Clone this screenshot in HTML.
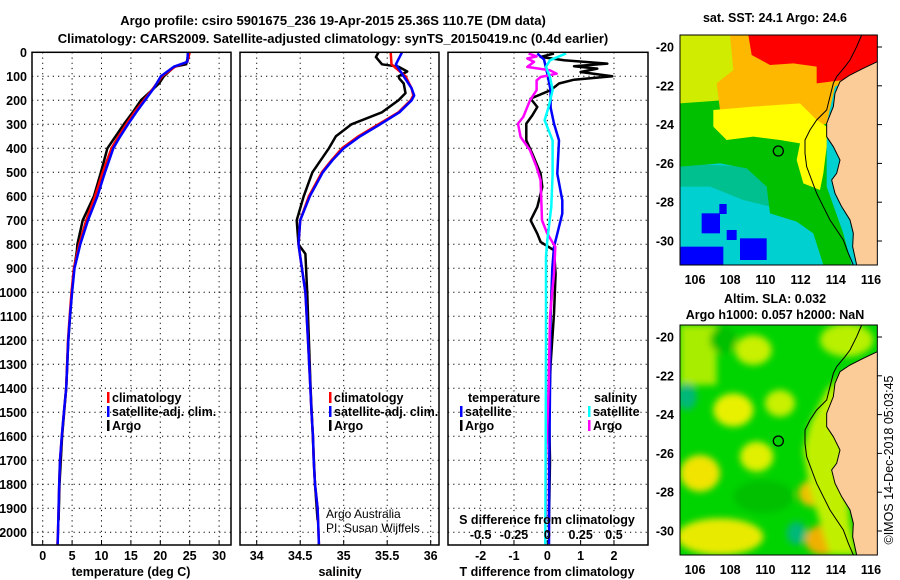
<!DOCTYPE html>
<html><head><meta charset="utf-8"><style>
html,body{margin:0;padding:0;background:#fff}
svg{display:block;font-family:"Liberation Sans",sans-serif}
.b{font-weight:bold;font-size:13px}
.t{font-weight:bold;font-size:12.5px}
</style></head><body>
<svg id="chart" width="900" height="580" viewBox="0 0 900 580" xmlns="http://www.w3.org/2000/svg">
<rect width="900" height="580" fill="#fff"/>
<text x="333" y="25" text-anchor="middle" class="b" font-size="14">Argo profile: csiro 5901675_236 19-Apr-2015 25.36S 110.7E (DM data)</text>
<text x="333" y="43" text-anchor="middle" class="b" font-size="14">Climatology: CARS2009. Satellite-adjusted climatology: synTS_20150419.nc (0.4d earlier)</text>
<g id="plots"></g>

<defs>
<clipPath id="mc"><rect x="30" y="105" width="592" height="690"/></clipPath>
<filter id="bl" x="-50%" y="-50%" width="200%" height="200%"><feGaussianBlur stdDeviation="10"/></filter>
</defs>
<text x="775" y="22" text-anchor="middle" class="t">sat. SST: 24.1 Argo: 24.6</text>
<g transform="translate(670,0) scale(0.33333)">
 <g clip-path="url(#mc)">
  <rect x="30" y="105" width="592" height="690" fill="#00d0d0"/>
  <polygon fill="#00c090" points="30,490 230,500 290,560 300,620 220,600 120,560 30,560"/>
  <polygon fill="#00c000" points="30,290 470,290 470,560 520,700 545,795 460,795 430,700 380,665 300,640 290,560 230,505 150,490 30,500"/>
  <polygon fill="#d0ec00" points="30,105 240,105 240,250 170,300 30,310"/>
  <polygon fill="#ffb800" points="180,105 622,105 622,200 495,260 470,370 420,390 380,340 250,350 150,330 140,250 190,210"/>
  <polygon fill="#ffff00" points="130,330 250,320 390,310 440,360 470,380 470,440 460,520 450,570 400,550 380,480 390,430 330,420 250,410 170,420 130,380"/>
  <polygon fill="#ff0000" points="235,105 622,105 622,185 520,240 440,250 440,200 370,190 300,195 245,165"/>
  <rect x="30" y="740" width="130" height="55" fill="#0000ff"/>
  <rect x="210" y="715" width="80" height="65" fill="#0000ff"/>
  <rect x="95" y="640" width="55" height="60" fill="#0000ff"/>
  <rect x="148" y="612" width="22" height="30" fill="#0000ff"/>
  <rect x="170" y="690" width="30" height="30" fill="#0000ff"/>
  <polygon fill="#fccc98" points="622,185 580,205 540,225 510,245 495,280 490,320 470,370 470,410 490,440 510,480 500,520 485,540 495,580 515,620 540,660 550,700 548,740 560,795 622,795"/>
  <polyline fill="none" stroke="#000" stroke-width="3" points="622,185 580,205 540,225 510,245 495,280 490,320 470,370 470,410 490,440 510,480 500,520 485,540 495,580 515,620 540,660 550,700 548,740 560,795"/>
  <polyline fill="none" stroke="#000" stroke-width="3" points="575,105 560,140 540,180 525,200 500,230 490,250 480,290 470,330 440,360 420,390 405,420 405,460 410,500 425,540 440,580 460,620 480,660 500,690 520,720 535,760 550,795"/>
  <circle cx="325" cy="453" r="15" fill="none" stroke="#000" stroke-width="4"/>
 </g>
 <rect x="30" y="105" width="592" height="690" fill="none" stroke="#000" stroke-width="3"/>
</g>

<text x="775" y="303" text-anchor="middle" class="t">Altim. SLA: 0.032</text>
<text x="775" y="319" text-anchor="middle" class="t">Argo h1000: 0.057 h2000: NaN</text>
<g transform="translate(670,290) scale(0.33333)">
 <g clip-path="url(#mc)">
  <rect x="30" y="105" width="592" height="690" fill="#00d400"/>
  <g filter="url(#bl)">
   <rect x="30" y="105" width="110" height="180" fill="#a8ec00"/>
   <ellipse cx="250" cy="180" rx="55" ry="45" fill="#c8f000"/>
   <ellipse cx="190" cy="360" rx="60" ry="50" fill="#e8f000"/>
   <ellipse cx="330" cy="340" rx="45" ry="40" fill="#c8f000"/>
   <ellipse cx="260" cy="500" rx="50" ry="45" fill="#e0f000"/>
   <ellipse cx="90" cy="550" rx="60" ry="55" fill="#f0e400"/>
   <ellipse cx="150" cy="740" rx="130" ry="55" fill="#e8ea00"/>
   <ellipse cx="430" cy="610" rx="45" ry="40" fill="#f0c000"/>
   <ellipse cx="460" cy="750" rx="55" ry="45" fill="#f0b000"/>
   <ellipse cx="530" cy="150" rx="80" ry="50" fill="#b8f000"/>
   <polygon fill="#c0f000" points="470,300 520,250 560,300 520,460 540,700 560,795 480,795 420,600 400,480 420,400"/>
   <ellipse cx="50" cy="320" rx="30" ry="40" fill="#00b878"/>
   <ellipse cx="380" cy="730" rx="30" ry="35" fill="#00b878"/>
   <ellipse cx="160" cy="150" rx="40" ry="40" fill="#00c000"/>
   <ellipse cx="280" cy="620" rx="90" ry="50" fill="#00c000"/>
  </g>
  <polygon fill="#fccc98" points="622,185 580,205 540,225 510,245 495,280 490,320 470,370 470,410 490,440 510,480 500,520 485,540 495,580 515,620 540,660 550,700 548,740 560,795 622,795"/>
  <polyline fill="none" stroke="#000" stroke-width="3" points="622,185 580,205 540,225 510,245 495,280 490,320 470,370 470,410 490,440 510,480 500,520 485,540 495,580 515,620 540,660 550,700 548,740 560,795"/>
  <polyline fill="none" stroke="#000" stroke-width="3" points="575,105 560,140 540,180 525,200 500,230 490,250 480,290 470,330 440,360 420,390 405,420 405,460 410,500 425,540 440,580 460,620 480,660 500,690 520,720 535,760 550,795"/>
  <circle cx="325" cy="453" r="15" fill="none" stroke="#000" stroke-width="4"/>
 </g>
 <rect x="30" y="105" width="592" height="690" fill="none" stroke="#000" stroke-width="3"/>
</g>
<text transform="translate(893,460) rotate(-90)" text-anchor="middle" font-size="12.5">©IMOS 14-Dec-2018 05:03:45</text>
</svg>
<script>
// ---- data ----
const depthTicks = [0,100,200,300,400,500,600,700,800,900,1000,1100,1200,1300,1400,1500,1600,1700,1800,1900,2000];
const tempTicks = [0,5,10,15,20,25,30];
const salTicks = [34,34.5,35,35.5,36];
const salTickLabels = ["34","34.5","35","35.5","36"];
const tdTicks = [-2,-1,0,1,2];
const sdTicks = [-0.5,-0.25,0,0.25,0.5];
const sdTickLabels = ["-0.5","-0.25","0","0.25","0.5"];

const climDepth = [0,40,60,100,150,200,250,300,350,400,500,600,700,800,900,1000,1100,1200,1400,1500,1600,1700,1800,1900,2000,2050];
const climT = [25,24.6,22.5,20.3,18.8,17.2,15.6,14.2,12.9,11.7,10.2,8.9,7.4,6.2,5.3,4.9,4.6,4.3,4.0,3.6,3.25,2.95,2.8,2.7,2.6,2.5];
const satT  = [24.7,24.6,22.3,20.1,18.9,17.4,15.9,14.5,13.2,12.0,10.6,9.3,7.7,6.4,5.4,5.0,4.65,4.35,4.0,3.6,3.25,2.95,2.8,2.7,2.6,2.55];
const argoTDepth = [0,20,50,60,100,130,200,250,300,350,400,500,600,700,800,830,900,1000,1200,1400,1600,1800,1950];
const argoT = [24.8,24.7,24.4,22.4,20.6,19.8,16.7,15.3,13.8,12.4,11,9.9,8.7,6.8,5.9,5.8,5.35,4.95,4.35,4.0,3.3,2.85,2.7];

const salDepth = [0,50,100,150,180,200,250,300,350,400,450,500,600,700,800,900,1000,1100,1200,1400,1500,1600,1700,1800,1900,2000,2050];
const climS = [35.54,35.55,35.71,35.78,35.80,35.77,35.63,35.40,35.17,34.98,34.86,34.75,34.60,34.50,34.48,34.52,34.56,34.575,34.59,34.617,34.63,34.647,34.655,34.67,34.70,34.71,34.715];
const satS  = [35.67,35.6,35.69,35.78,35.81,35.78,35.64,35.42,35.19,35.0,34.87,34.76,34.61,34.50,34.48,34.52,34.56,34.575,34.59,34.617,34.63,34.647,34.655,34.67,34.70,34.71,34.715];
const argoSDepth = [0,20,50,60,80,100,110,130,170,200,250,300,350,400,500,600,700,800,840,1000,1200,1400,1600,1800,1950];
const argoS = [35.40,35.37,35.44,35.63,35.73,35.63,35.64,35.69,35.71,35.63,35.44,35.09,34.91,34.83,34.64,34.54,34.46,34.48,34.56,34.58,34.60,34.62,34.645,34.67,34.70];

const argoTdDepth = [5,19,33,47,58,68,82,100,114,130,158,193,228,263,297,367,422,506,561,644,700,756,790,825,922,1089,1300,1500,1700,1950];
const argoTd = [0.2,-0.2,0.5,1.8,0.8,1.5,1.0,1.95,0.8,0.35,0.1,-0.5,-0.3,-0.45,-0.63,-0.63,-0.45,-0.2,-0.15,-0.3,-0.5,-0.3,-0.2,0.2,0.25,0.2,0.1,0.05,0.08,0.05];
const satTdDepth = [5,30,89,158,230,297,367,506,617,672,756,811,900,1100,1400,1700,2050];
const satTd = [-0.3,-0.1,0,0.1,0.1,0.2,0.35,0.3,0.45,0.45,0.3,0.2,0.15,0.1,0.08,0.06,0.05];
const argoSdDepth = [5,17,26,40,61,75,89,103,117,158,200,269,297,353,408,478,533,700,756,811,922,1100,1400,1700,1950];
const argoSd = [-0.14,-0.08,-0.15,-0.1,-0.15,0.02,0.07,-0.05,-0.08,-0.08,-0.13,-0.18,-0.22,-0.2,-0.13,-0.08,-0.05,-0.04,0,0.06,0.05,0.02,0.01,-0.01,-0.01];
const satSdDepth = [5,33,61,103,158,228,283,367,506,644,783,853,1200,1600,2050];
const satSd = [0.14,0.02,-0.01,0.02,0.04,0.01,-0.02,0.04,0.04,0.03,0,-0.01,-0.01,-0.012,-0.015];

const latTicks = [-20,-22,-24,-26,-28,-30];
const lonTicks = [106,108,110,112,114,116];

// ---- helpers ----
const NS = "http://www.w3.org/2000/svg";
const root = document.getElementById("plots");
function mk(tag, attrs, parent, txt){
  const e = document.createElementNS(NS, tag);
  for (const k in attrs) e.setAttribute(k, attrs[k]);
  if (txt !== undefined) e.textContent = txt;
  (parent || root).appendChild(e);
  return e;
}
const TOP = 52.3, BOT = 545;
const yD = d => TOP + d * 0.24;
const xT = v => 42.7 + v * 5.88;
const xS = v => 256.7 + (v - 34) * 87;
const xTd = v => 547.3 + v * 33.33;
const xSd = v => 547.3 + v * 133.33;

const panels = [{x0:32,x1:231,name:"temperature-panel"},{x0:240,x1:439,name:"salinity-panel"},{x0:448,x1:648,name:"difference-panel"}];
panels.forEach((p, i) => {
  const g = mk("g", {});
  
  
  depthTicks.forEach(d => {
    if (d === 0) return;
    const l = mk("line", {x1:p.x0, x2:p.x1, y1:yD(d), y2:yD(d), stroke:"#000", "stroke-width":1, "stroke-dasharray":"1.2 4"}, g);
    
    
  });
  const xs = i===0 ? tempTicks.map(xT) : i===1 ? salTicks.map(xS) : tdTicks.map(xTd);
  xs.forEach(x => {
    const l = mk("line", {x1:x, x2:x, y1:TOP, y2:BOT, stroke:"#000", "stroke-width":1, "stroke-dasharray":"1.2 4"}, g);
    
    
    const tk = mk("line", {x1:x, x2:x, y1:BOT, y2:BOT-5, stroke:"#000"}, g);
    
    
  });
  p.g = g;
});

function line(xsArr, ds, sx, color, name, w){
  const pts = xsArr.map((v, k) => sx(v).toFixed(1) + "," + yD(ds[k]).toFixed(1)).join(" ");
  const pl = mk("polyline", {points:pts, fill:"none", stroke:color, "stroke-width":w||2.5, "stroke-linejoin":"round"});
  
  
}
line(argoT, argoTDepth, xT, "#000", "argo-temperature-line");
line(climT, climDepth, xT, "#f00", "climatology-temperature-line");
line(satT, climDepth, xT, "#00f", "satellite-temperature-line");
line(argoS, argoSDepth, xS, "#000", "argo-salinity-line");
line(climS, salDepth, xS, "#f00", "climatology-salinity-line");
line(satS, salDepth, xS, "#00f", "satellite-salinity-line");
line(argoTd, argoTdDepth, xTd, "#000", "argo-t-diff-line");
line(satTd, satTdDepth, xTd, "#00f", "satellite-t-diff-line");
line(argoSd, argoSdDepth, xSd, "#f0f", "argo-s-diff-line");
line(satSd, satSdDepth, xSd, "#0ff", "satellite-s-diff-line");

panels.forEach(p => {
  const r = mk("rect", {x:p.x0, y:TOP, width:p.x1-p.x0, height:BOT-TOP, fill:"none", stroke:"#000", "stroke-width":1.5});
  
  
});

depthTicks.forEach(d => {
  const t = mk("text", {x:27, y:yD(d)+4.5, "text-anchor":"end", class:"t"}, root, String(d));
  
  
});
tempTicks.forEach(v => {
  const t = mk("text", {x:xT(v), y:560, "text-anchor":"middle", class:"t"}, root, String(v));
  
  
});
salTicks.forEach((v, k) => {
  const t = mk("text", {x:xS(v), y:560, "text-anchor":"middle", class:"t"}, root, salTickLabels[k]);
  
  
});
tdTicks.forEach(v => {
  const t = mk("text", {x:xTd(v), y:560, "text-anchor":"middle", class:"t"}, root, String(v));
  
  
});
sdTicks.forEach((v, k) => {
  const t = mk("text", {x:xSd(v), y:539, "text-anchor":"middle", class:"t"}, root, sdTickLabels[k]);
  
  
});
[["temperature (deg C)",131,"temperature-axis-title"],["salinity",340,"salinity-axis-title"],["T difference from climatology",547,"t-diff-axis-title"]].forEach(a => {
  const t = mk("text", {x:a[1], y:576, "text-anchor":"middle", class:"t"}, root, a[0]);
  
  
});
const sdt = mk("text", {x:547, y:524, "text-anchor":"middle", class:"t"}, root, "S difference from climatology");



function legend(x, y, color, label){
  const m = mk("rect", {x:x, y:y-10, width:2.5, height:11, fill:color});
  
  
  const t = mk("text", {x:x+5, y:y, class:"t"}, root, label);
  
  
}
[[107,"climatology","#f00",402],[107,"satellite-adj. clim.","#00f",416],[107,"Argo","#000",430]].forEach(a=>legend(a[0],a[3],a[2],a[1]));
[[329,"climatology","#f00",402],[329,"satellite-adj. clim.","#00f",416],[329,"Argo","#000",430]].forEach(a=>legend(a[0],a[3],a[2],a[1]));
const th = mk("text", {x:468, y:402, class:"t"}, root, "temperature");


const sh = mk("text", {x:594, y:402, class:"t"}, root, "salinity");


legend(460, 416, "#00f", "satellite");
legend(460, 430, "#000", "Argo");
legend(588, 416, "#0ff", "satellite");
legend(588, 430, "#f0f", "Argo");
const aa = mk("text", {x:326, y:518, "font-size":"12"}, root, "Argo Australia");


const pi = mk("text", {x:326, y:532, "font-size":"12"}, root, "PI: Susan Wijffels");



const lonX = v => 695 + (v - 106) * 17.6;
const latY = v => 47 + (-20 - v) * 19.4;
[0, 290].forEach(off => {
  latTicks.forEach(v => {
    const t = mk("text", {x:674, y:latY(v)+off+4.5, "text-anchor":"end", class:"t"}, root, String(v));
    
    
    const tk = mk("line", {x1:877, x2:882, y1:latY(v)+off, y2:latY(v)+off, stroke:"#000"});
    
    
  });
  lonTicks.forEach(v => {
    const t = mk("text", {x:lonX(v), y:284+off, "text-anchor":"middle", class:"t"}, root, String(v));
    
    
  });
});
</script>
</body></html>
